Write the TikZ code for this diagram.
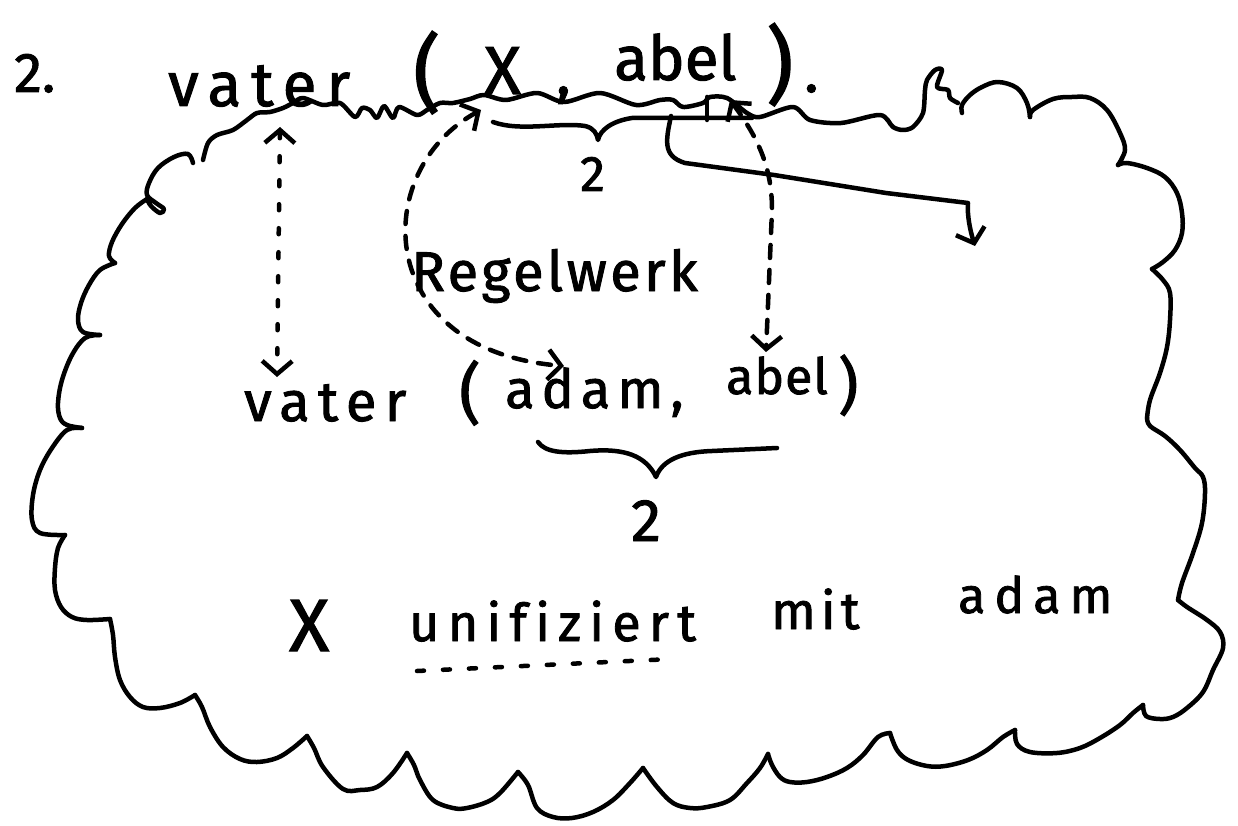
\documentclass[tikz,border=0pt]{standalone}
\usepackage{fontspec}
\setmainfont{Fira Sans}
\newfontfamily\handfont[Ligatures=NoCommon, FakeBold=1.6]{Fira Sans}
\usetikzlibrary{arrows.meta}
\tikzset{
  pen/.style={line width=4.5pt, line cap=round, line join=round},
  hand/.style n args={2}{font=\fontsize{#1}{#1}\handfont\addfontfeatures{LetterSpace=#2}, inner sep=0pt, anchor=base west},
  barb/.tip={Straight Barb[length=13pt, width=30pt, line width=4.5pt]},
  dotted line/.style={pen, dash pattern=on 6pt off 18pt},
  dashed line/.style={pen, dash pattern=on 13pt off 12pt},
}
\begin{document}
\begin{tikzpicture}[x=1pt, y=-1pt]
\useasboundingbox (0,0) rectangle (1238,826);

% ---------- top line: the query ----------
\node[hand={56}{0}]  (num)    at (14,92)   {2.};
\node[hand={62}{16}] (vaterA) at (168,106) {vater};
\node[hand={84}{0}]  (lpA)    at (413,102) {(};
\node[hand={68}{0}]  (XA)     at (484,94)  {X};
\node[hand={60}{0}]  (commaA) at (556,94)  {,};
\node[hand={62}{0}]  (abelA)  at (614,80)  {abel};
\node[hand={84}{0}]  (rpA)    at (766,94)  {)};
\node[hand={60}{0}]  (dotA)   at (804,92)  {.};

% ---------- inside the cloud ----------
\node[hand={50}{0}]  (twoA)   at (580,191) {2};
\node[hand={56}{6}]  (regel)  at (411,291) {Regelwerk};
\node[hand={56}{15}] (vaterB) at (244,421) {vater};
\node[hand={66}{0}]  (lpB)    at (459,416) {(};
\node[hand={54}{13}] (adamB)  at (505,408) {adam,};
\node[hand={50}{2}]  (abelB)  at (726,394) {abel};
\node[hand={62}{0}]  (rpB)    at (838,407) {)};
\node[hand={60}{0}]  (twoB)   at (631,541) {2};
\node[hand={74}{0}]  (XC)     at (289,651) {X};
\node[hand={52}{16}] (unif)   at (409,641) {unifiziert};
\node[hand={52}{10}] (mit)    at (771,629) {mit};
\node[hand={50}{18}] (adamC)  at (958,613) {adam};

% ---------- cloud outline ----------
% top edge, running under the query
\draw[pen] plot[smooth, tension=0.5] coordinates {
  (203,160) (208,143) (217,135) (233,130) (247,120) (257,113) (270,112)
  (283,108) (293,103) (303,98) (323,105) (340,103) (355,117) (362,108)
  (370,110) (377,118) (384,106) (393,118) (399,107) (417,115) (427,110)
  (440,103) (453,103) (470,99) (484,95) (506,100) (537,93) (564,102)
  (600,93) (636,105) (660,100) (673,100) (683,107) (703,103) (710,97)
  (727,98) (747,113) (760,117) (793,107) (810,120) (841,123) (880,115)
  (893,127) (903,130) (913,127) (923,113) (925,90) (927,80) (935,70)
  (942,70) (937,87) (948,90) (950,98) (958,103)};
% left side, top to bottom
\draw[pen] plot[smooth, tension=0.6] coordinates {
  (193,163) (188,154) (174,157) (158,168) (149,183) (147,195) (156,203)
  (164,209) (160,213) (151,206) (147,199)};
\draw[pen] plot[smooth, tension=0.6] coordinates {
  (147,199) (135,208) (122,224) (112,242) (109,256) (115,263)};
\draw[pen] plot[smooth, tension=0.6] coordinates {
  (115,263) (100,270) (89,285) (81,303) (78,320) (83,332) (100,335)};
\draw[pen] plot[smooth, tension=0.6] coordinates {
  (100,335) (85,338) (72,355) (62,380) (58,403) (60,418) (67,425) (82,428)};
\draw[pen] plot[smooth, tension=0.6] coordinates {
  (82,428) (67,430) (52,448) (40,470) (33,495) (32,520) (40,533) (65,535)};
\draw[pen] plot[smooth, tension=0.6] coordinates {
  (65,535) (58,548) (55,568) (55,590) (61,607) (72,617) (87,620) (110,619)};
% bottom edge, left to right
\draw[pen] plot[smooth, tension=0.6] coordinates {
  (110,619) (113,635) (115,657) (120,680) (130,697) (143,707) (160,708) (180,703) (195,695)};
\draw[pen] plot[smooth, tension=0.6] coordinates {
  (195,695) (202,707) (210,727) (223,747) (240,759) (257,762) (277,758) (293,748) (307,736)};
\draw[pen] plot[smooth, tension=0.6] coordinates {
  (307,736) (314,748) (323,767) (343,789) (360,790) (377,787) (393,773) (407,753)};
\draw[pen] plot[smooth, tension=0.6] coordinates {
  (407,753) (414,765) (420,780) (433,800) (453,808) (467,808) (487,802) (500,793) (518,772)};
\draw[pen] plot[smooth, tension=0.6] coordinates {
  (518,772) (528,785) (537,808) (553,817) (572,818) (593,812) (613,800) (630,783) (643,768)};
\draw[pen] plot[smooth, tension=0.6] coordinates {
  (643,768) (657,787) (673,803) (690,808) (707,807) (730,800) (747,783) (760,768) (768,754)};
\draw[pen] plot[smooth, tension=0.6] coordinates {
  (768,754) (772,765) (780,777) (790,782) (807,782) (827,777) (847,768) (863,755) (878,737) (890,733)};
\draw[pen] plot[smooth, tension=0.6] coordinates {
  (890,733) (897,750) (908,760) (927,766) (945,766) (968,760) (987,750) (1003,737) (1015,730)};
\draw[pen] plot[smooth, tension=0.6] coordinates {
  (1015,730) (1017,744) (1030,752) (1057,753) (1080,748) (1100,738) (1120,725) (1133,713) (1143,705)};
% right side, bottom to top
\draw[pen] plot[smooth, tension=0.6] coordinates {
  (1143,705) (1146,716) (1160,719) (1173,717) (1187,708) (1203,692) (1213,670)
  (1223,648) (1220,632) (1207,620) (1187,607) (1178,600)};
\draw[pen] plot[smooth, tension=0.6] coordinates {
  (1178,600) (1182,583) (1193,553) (1202,523) (1205,493) (1203,477) (1195,468)
  (1180,450) (1165,436) (1150,426) (1147,418)};
\draw[pen] plot[smooth, tension=0.6] coordinates {
  (1147,418) (1150,400) (1160,373) (1167,347) (1170,320) (1170,293) (1163,280) (1152,269)};
\draw[pen] plot[smooth, tension=0.6] coordinates {
  (1152,269) (1163,262) (1175,250) (1182,233) (1182,213) (1177,193) (1165,177)
  (1147,168) (1127,163) (1118,165)};
\draw[pen] plot[smooth, tension=0.6] coordinates {
  (1118,165) (1125,150) (1120,133) (1107,110) (1090,98) (1072,97) (1053,99) (1033,110) (1030,117)};
\draw[pen] plot[smooth, tension=0.6] coordinates {
  (1030,117) (1027,103) (1017,88) (998,82) (982,87) (970,95) (962,105) (962,113)};

% ---------- braces ----------
\draw[pen] (493,122) .. controls (520,132) and (560,122) .. (585,126)
  .. controls (594,128) and (597,134) .. (598,140)
  .. controls (600,130) and (612,121) .. (632,118) -- (752,118);
\draw[pen] (707,97) -- (707,120);
\draw[pen] (538,442) .. controls (545,452) and (562,454) .. (590,451)
  .. controls (625,448) and (646,456) .. (656,477)
  .. controls (662,460) and (682,452) .. (712,451) -- (777,448);

% ---------- connectors ----------
\coordinate (lTop) at (280,127);
\coordinate (lBot) at (277,377);
\draw[dotted line, barb-barb] (lTop) -- (lBot);

\coordinate (aTop) at (481,110);
\coordinate (aBot) at (564,366);
\draw[dashed line, barb-barb] (aTop) .. controls (370,170) and (372,350) .. (aBot);

\coordinate (rTop) at (730,100);
\coordinate (rBot) at (766,352);
\draw[dashed line, barb-barb] (rTop) .. controls (760,140) and (772,170) .. (772,210) -- (rBot);

\coordinate (sStart) at (671,116);
\coordinate (sEnd) at (975,246);
\draw[pen, -barb] (sStart) .. controls (666,140) and (662,156) .. (685,163)
  -- (774,175) -- (886,193) -- (968,203) .. controls (967,215) and (970,230) .. (sEnd);

% dotted underline of "unifiziert"
\coordinate (uL) at (417,671);
\coordinate (uR) at (672,659);
\draw[pen, dash pattern=on 7pt off 19pt] (uL) -- (uR);
\end{tikzpicture}
\end{document}
